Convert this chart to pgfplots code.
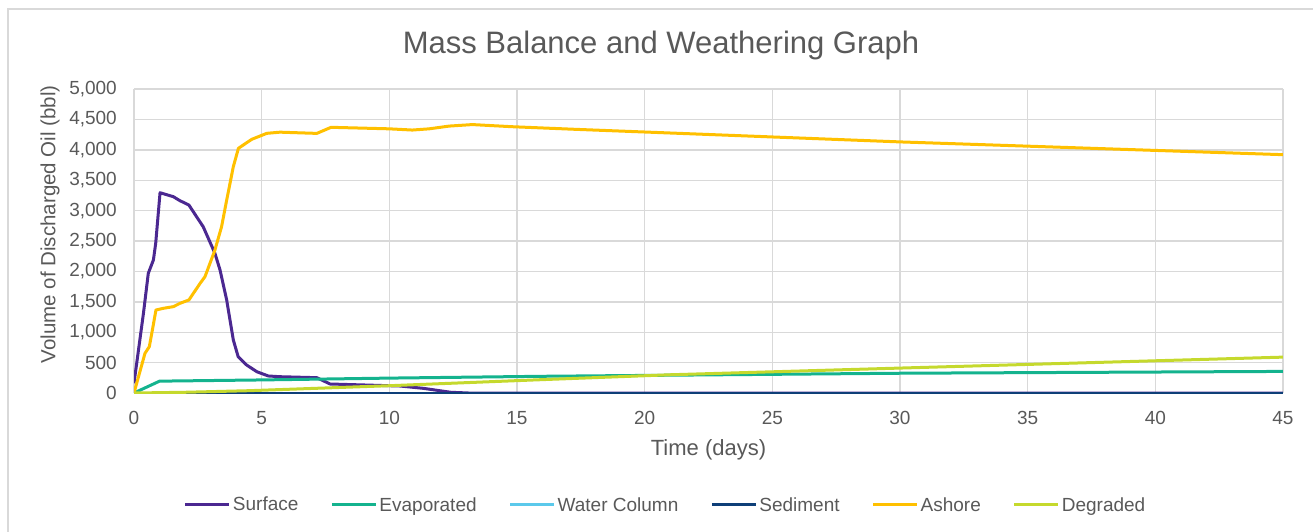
\documentclass[border=0pt]{standalone}
\usepackage{fontspec}
\setmainfont{Liberation Sans}
\usepackage{pgfplots}
\pgfplotsset{compat=1.18}

\definecolor{surfcol}{HTML}{4B2891}
\definecolor{evapcol}{HTML}{14B38E}
\definecolor{watercol}{HTML}{5BC9EB}
\definecolor{sedcol}{HTML}{0E3F78}
\definecolor{ashcol}{HTML}{FFC000}
\definecolor{degcol}{HTML}{C5D92D}
\definecolor{gridgray}{HTML}{D9D9D9}
\definecolor{labelgray}{HTML}{595959}

\begin{document}
\begin{tikzpicture}[x=1pt,y=1pt]
\useasboundingbox (0,0) rectangle (1313,531);
% chart frame (only left and top edges show)
\draw[gridgray,line width=1.5pt] (8,-20) -- (8,522) -- (1340,522);
\node[text=labelgray,font=\fontsize{31}{36}\selectfont] at (661,486) {Mass Balance and Weathering Graph};

\begin{axis}[
    at={(134pt,138pt)}, anchor=south west,
    scale only axis, width=1149pt, height=304pt,
    xmin=0, xmax=45, ymin=0, ymax=5000,
    xtick={0,5,...,45},
    ytick={0,500,...,5000},
    grid=major,
    grid style={gridgray,line width=1.4pt},
    axis line style={draw=none},
    major tick length=0pt,
    /pgf/number format/assume math mode=true,
    /pgf/number format/1000 sep={,},
    tick label style={font=\fontsize{19}{22}\selectfont, text=labelgray, inner sep=0pt},
    xticklabel style={anchor=center, yshift=-25pt},
    yticklabel style={anchor=east, xshift=-17pt},
    xlabel={Time (days)},
    ylabel={Volume of Discharged Oil (bbl)},
    xlabel style={at={(axis description cs:0.5,-0.1875)}, anchor=center,
      font=\fontsize{22}{26}\selectfont, text=labelgray},
    ylabel style={at={(axis description cs:-0.0731,0.555)}, anchor=center,
      font=\fontsize{20.5}{24}\selectfont, text=labelgray},
    legend style={at={(axis description cs:0.4627,-0.368)}, anchor=center,
      draw=none, fill=none, font=\fontsize{19}{22}\selectfont, text=labelgray,
      /tikz/every even column/.append style={column sep=30pt}},
    legend columns=6,
    legend image code/.code={\draw[#1, line width=3pt] (0pt,0pt) -- (44pt,0pt);},
    every axis plot/.append style={line width=3pt, no markers, line join=round},
  ]
  % Surface
  \addplot[surfcol] coordinates {
    (0,160) (0.37,1311) (0.56,1969) (0.76,2188) (0.85,2462) (1.02,3294)
    (1.54,3229) (1.80,3163) (2.15,3092) (2.58,2817) (2.71,2735) (3.17,2297)
    (3.37,2023) (3.63,1530) (3.89,872) (4.08,597) (4.41,461) (4.81,350)
    (5.26,280) (5.72,268) (7.16,252) (7.68,148) (10.42,115) (11.33,77)
    (12.4,12) (13.1,0) (45,0)
  };
  % Evaporated
  \addplot[evapcol] coordinates {
    (0,0) (1,195) (5,215) (10,245) (16,275) (30,325) (45,355)
  };
  % Water Column
  \addplot[watercol] coordinates {
    (0,0) (45,0)
  };
  % Sediment
  \addplot[sedcol] coordinates {
    (0,0) (45,0)
  };
  % Ashore
  \addplot[ashcol] coordinates {
    (0,0) (0.43,653) (0.60,762) (0.72,1036) (0.86,1365) (1.15,1393)
    (1.54,1420) (1.80,1475) (2.15,1530) (2.59,1804) (2.78,1913) (3.17,2352)
    (3.43,2735) (3.63,3174) (3.89,3722) (4.09,4025) (4.61,4172) (5.2,4271)
    (5.72,4290) (7.16,4270) (7.72,4370) (10,4345) (10.9,4325) (11.56,4345)
    (12.34,4390) (13.25,4415) (14.8,4380) (17.4,4335) (30,4130) (45,3920)
  };
  % Degraded
  \addplot[degcol] coordinates {
    (0,0) (2,12) (4.5,38) (10,120) (16,220) (21,300) (30,410) (45,590)
  };
  \legend{Surface, Evaporated, Water Column, Sediment, Ashore, Degraded}
\end{axis}
\end{tikzpicture}
\end{document}
